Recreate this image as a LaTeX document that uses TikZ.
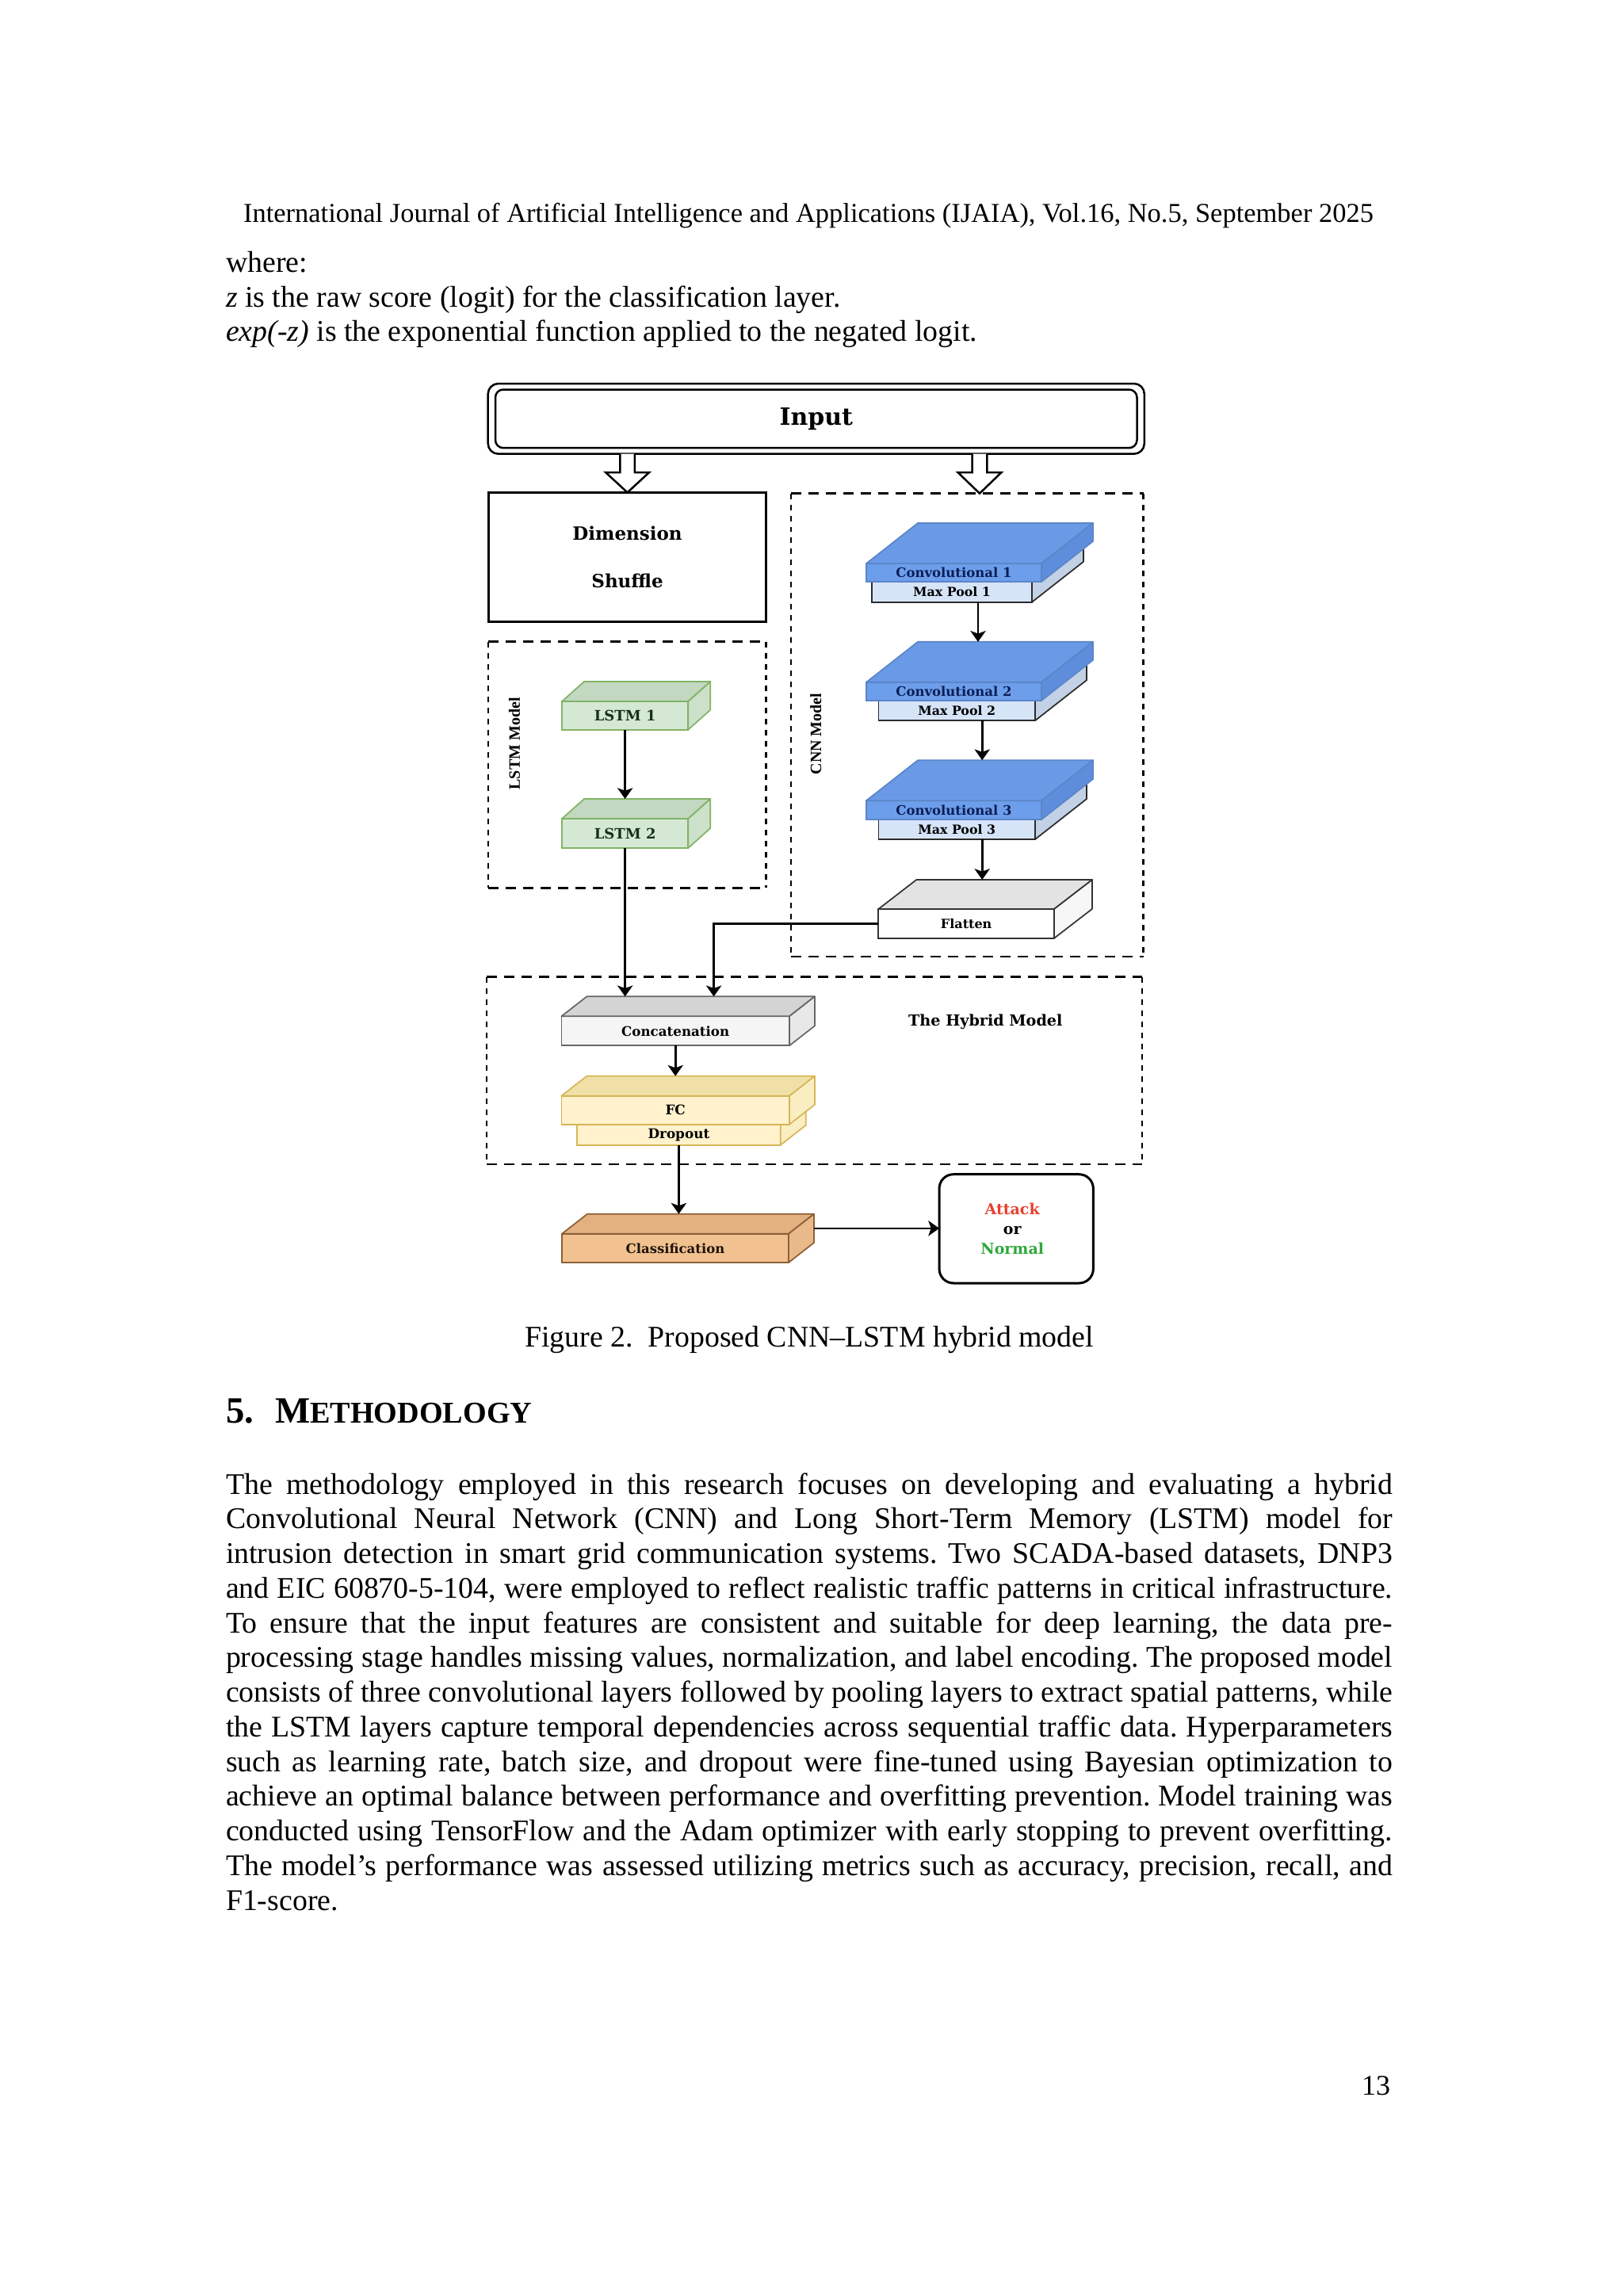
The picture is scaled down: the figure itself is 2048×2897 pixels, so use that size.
\documentclass[tikz,border=0pt]{standalone}
\usepackage{fontspec}
\setmainfont{Liberation Serif}
\newfontfamily\dvs{DejaVu Serif}
\usetikzlibrary{arrows.meta,calc}
\frenchspacing
\def\pxu{0.29067pt}
\newlength\parw
\setlength\parw{427.9pt}
\definecolor{lstmF}{HTML}{D5E8D4}\definecolor{lstmT}{HTML}{C2D8C0}\definecolor{lstmS}{HTML}{CCE0CA}\definecolor{lstmD}{HTML}{82B366}\definecolor{lstmTx}{HTML}{17301A}
\definecolor{convF}{HTML}{6D9EEB}\definecolor{convT}{HTML}{6A9AE5}\definecolor{convS}{HTML}{5D8DDB}\definecolor{convD}{HTML}{5B86C9}\definecolor{convTx}{HTML}{0B1E55}
\definecolor{mpF}{HTML}{D6E4F8}\definecolor{mpS}{HTML}{C3D1E6}\definecolor{mpD}{HTML}{2B2B2B}
\definecolor{flatF}{HTML}{FFFFFF}\definecolor{flatT}{HTML}{E3E3E3}\definecolor{flatS}{HTML}{F7F7F7}\definecolor{flatD}{HTML}{333333}
\definecolor{catF}{HTML}{F5F5F5}\definecolor{catT}{HTML}{D4D4D4}\definecolor{catS}{HTML}{E8E8E8}\definecolor{catD}{HTML}{666666}
\definecolor{fcF}{HTML}{FFF2CC}\definecolor{fcT}{HTML}{F0E0A8}\definecolor{fcS}{HTML}{FAEDC2}\definecolor{fcD}{HTML}{D6B656}
\definecolor{clsF}{HTML}{F2C190}\definecolor{clsT}{HTML}{E3B080}\definecolor{clsS}{HTML}{EAB98A}\definecolor{clsD}{HTML}{8A6036}
\definecolor{atkR}{HTML}{E8402F}\definecolor{nrmG}{HTML}{2EA83A}
% #1 name, #2 cx, #3 cy, #4 w, #5 h, #6 dx, #7 dy, #8 style prefix, #9 text
\newcommand\cuboid[9]{%
  \node[cubef, #8f, minimum width=#4*\pxu, minimum height=#5*\pxu] (#1) at (#2,#3) {#9};
  \filldraw[cubes, #8t] (#1.north west) -- ++(#6,#7) -- ++(#4,0) -- (#1.north east) -- cycle;
  \filldraw[cubes, #8s] (#1.north east) -- ++(#6,#7) -- ++(0,#5) -- (#1.south east) -- cycle;
  \coordinate (#1-top) at ($(#1.north)+(#6,#7)$);
}
\newcommand\dbox[5]{%
  \coordinate (#1-nw) at (#2,#3); \coordinate (#1-se) at (#4,#5);
  \draw[hd] (#1-nw) -- (#1-nw -| #1-se);
  \draw[hd] (#1-nw |- #1-se) -- (#1-se);
  \draw[vd] (#1-nw) -- (#1-nw |- #1-se);
  \draw[vd] (#1-nw -| #1-se) -- (#1-se);
}
\newcommand\pline[3]{\node[body] (#1) at (285,#2) {\makebox[\parw][s]{#3}};}
\begin{document}
\begin{tikzpicture}[x=0.29067pt, y=-0.29067pt,
  every node/.style={inner sep=0pt, outer sep=0pt},
  body/.style={anchor=base west, font=\fontsize{11pt}{12.7pt}\selectfont},
  hd/.style={line width=0.73pt, dash pattern=on 3.78pt off 2.62pt},
  vd/.style={line width=0.73pt, dash pattern=on 2.03pt off 2.03pt},
  arr/.style={line width=0.78pt, -{Stealth[length=4pt,width=5.6pt,inset=1pt]}},
  hollowarrow/.style={line width=0.73pt, fill=white, line join=miter},
  cubef/.style={draw, line width=0.5pt, font=\fontsize{4.8pt}{5.8pt}\selectfont\dvs\bfseries},
  cubes/.style={line width=0.5pt, line join=round},
  lstmf/.style={fill=lstmF, draw=lstmD, text=lstmTx, font=\fontsize{5.23pt}{6pt}\selectfont\dvs\bfseries},
  lstmt/.style={fill=lstmT, draw=lstmD}, lstms/.style={fill=lstmS, draw=lstmD},
  convf/.style={fill=convF, draw=convD, text=convTx},
  convt/.style={fill=convT, draw=convD}, convs/.style={fill=convS, draw=convD},
  mpf/.style={fill=mpF, draw=mpD, text=black, font=\fontsize{4.6pt}{5.6pt}\selectfont\dvs\bfseries},
  mpt/.style={fill=mpF, draw=mpD}, mps/.style={fill=mpS, draw=mpD},
  flatf/.style={fill=flatF, draw=flatD, text=black, font=\fontsize{4.65pt}{5.6pt}\selectfont\dvs\bfseries},
  flatt/.style={fill=flatT, draw=flatD}, flats/.style={fill=flatS, draw=flatD},
  catf/.style={fill=catF, draw=catD, text=black, font=\fontsize{4.85pt}{5.8pt}\selectfont\dvs\bfseries},
  catt/.style={fill=catT, draw=catD}, cats/.style={fill=catS, draw=catD},
  fcf/.style={fill=fcF, draw=fcD, text=black, font=\fontsize{4.9pt}{5.8pt}\selectfont\dvs\bfseries},
  fct/.style={fill=fcT, draw=fcD}, fcs/.style={fill=fcS, draw=fcD},
  clsf/.style={fill=clsF, draw=clsD, text=black!85!brown, font=\fontsize{4.8pt}{5.8pt}\selectfont\dvs\bfseries},
  clst/.style={fill=clsT, draw=clsD}, clss/.style={fill=clsS, draw=clsD}
]
\fill[white] (0,0) rectangle (2048,2897);
\useasboundingbox (0,0) rectangle (2048,2897);

% ---------- page text ----------
\node[anchor=base, font=\fontsize{10.02pt}{12pt}\selectfont] (hdr) at (1020,280) {International Journal of Artificial Intelligence and Applications (IJAIA), Vol.16, No.5, September 2025};
\node[body] (w1) at (285,343) {where:};
\node[body] (w2) at (285,387) {\textit{z} is the raw score (logit) for the classification layer.};
\node[body] (w3) at (285,430) {\textit{exp(-z)} is the exponential function applied to the negated logit.};
\node[anchor=base, font=\fontsize{11pt}{12.7pt}\selectfont] (cap) at (1021,1699) {Figure 2.\ \ Proposed CNN–LSTM hybrid model};
\node[body] (sec) at (285,1795) {\bfseries\fontsize{13.6pt}{15pt}\selectfont 5.\hspace{7.85pt}M\fontsize{11.1pt}{13pt}\selectfont ETHODOLOGY};
\pline{p1}{1885.0}{The methodology employed in this research focuses on developing and evaluating a hybrid}
\pline{p2}{1928.8}{Convolutional Neural Network (CNN) and Long Short-Term Memory (LSTM) model for}
\pline{p3}{1972.5}{intrusion detection in smart grid communication systems. Two SCADA-based datasets, DNP3}
\pline{p4}{2016.3}{and EIC 60870-5-104, were employed to reflect realistic traffic patterns in critical infrastructure.}
\pline{p5}{2060.0}{To ensure that the input features are consistent and suitable for deep learning, the data pre-}
\pline{p6}{2103.8}{processing stage handles missing values, normalization, and label encoding. The proposed model}
\pline{p7}{2147.6}{consists of three convolutional layers followed by pooling layers to extract spatial patterns, while}
\pline{p8}{2191.3}{the LSTM layers capture temporal dependencies across sequential traffic data. Hyperparameters}
\pline{p9}{2235.1}{such as learning rate, batch size, and dropout were fine-tuned using Bayesian optimization to}
\pline{p10}{2278.8}{achieve an optimal balance between performance and overfitting prevention. Model training was}
\pline{p11}{2322.6}{conducted using TensorFlow and the Adam optimizer with early stopping to prevent overfitting.}
\pline{p12}{2366.4}{The model’s performance was assessed utilizing metrics such as accuracy, precision, recall, and}
\node[body] (p13) at (285,2410.1) {F1-score.};
\node[anchor=base east, font=\fontsize{10.46pt}{12pt}\selectfont] (pg) at (1754,2643) {13};

% ---------- group boxes ----------
\dbox{lstmbox}{616}{809.6}{966.7}{1120.3}
\dbox{cnnbox}{997.8}{622.6}{1442.5}{1207.2}
\dbox{hybbox}{614}{1232.7}{1441}{1469.2}

% ---------- input and dimension shuffle ----------
\node[draw, line width=0.73pt, rounded corners=3.8pt, minimum width=828.1*\pxu, minimum height=88.7*\pxu,
      font=\fontsize{8.72pt}{10pt}\selectfont\dvs\bfseries] (input) at (1029.75,528.35) {Input};
\draw[line width=0.73pt, rounded corners=2.9pt] ($(input.north west)+(9.3,7.5)$) rectangle ($(input.south east)+(-9.3,-7.5)$);
\node[draw, line width=0.87pt, minimum width=349.4*\pxu, minimum height=162.8*\pxu, align=center,
      font=\fontsize{6.69pt}{17.44pt}\selectfont\dvs\bfseries] (dim) at (791.6,702.8) {Dimension\\Shuffle};

\coordinate (la) at (input.south -| dim.north);
\coordinate (ra) at ($(input.south)+(206.25,0)$);
\draw[hollowarrow] ($(la)+(-9.3,0)$) -- ($(la)+(-9.3,23.3)$) -- ($(la)+(-27.5,23.3)$) -- (dim.north)
   -- ($(la)+(27.5,23.3)$) -- ($(la)+(9.3,23.3)$) -- ($(la)+(9.3,0)$);
\draw[hollowarrow] ($(ra)+(-9.3,0)$) -- ($(ra)+(-9.3,23.3)$) -- ($(ra)+(-27.5,23.3)$) -- (ra |- cnnbox-nw)
   -- ($(ra)+(27.5,23.3)$) -- ($(ra)+(9.3,23.3)$) -- ($(ra)+(9.3,0)$);

% ---------- layers ----------
\cuboid{lstm1}{788.65}{902.85}{159.3}{35.7}{28}{-25}{lstm}{LSTM 1}
\cuboid{lstm2}{788.65}{1051.5}{159.3}{37}{28}{-25}{lstm}{LSTM 2}
\cuboid{mp1}{1201}{746.85}{202}{25.7}{65}{-51}{mp}{Max Pool 1}
\cuboid{conv1}{1203.5}{722.5}{221}{23}{65}{-51}{conv}{Convolutional 1}
\cuboid{mp2}{1207.2}{896.5}{197.7}{25.4}{65}{-51}{mp}{Max Pool 2}
\cuboid{conv2}{1203.5}{872.3}{221}{23}{65}{-51}{conv}{Convolutional 2}
\cuboid{mp3}{1207.2}{1046.5}{197.7}{25}{65}{-51}{mp}{Max Pool 3}
\cuboid{conv3}{1203.5}{1022.1}{221}{23.8}{65}{-51}{conv}{Convolutional 3}
\cuboid{flat}{1219.15}{1165.4}{221.7}{36.8}{48}{-37}{flat}{Flatten}
\cuboid{concat}{852.2}{1300.8}{287.6}{37}{32}{-25}{cat}{Concatenation}
\cuboid{drop}{856.4}{1431.7}{256.8}{26}{32}{-25}{fc}{Dropout}
\cuboid{fc}{852.2}{1400.7}{287.6}{36}{32}{-25}{fc}{FC}
\cuboid{cls}{852}{1574.85}{286}{36.3}{32}{-25}{cls}{Classification}

% ---------- labels ----------
\node[rotate=90, font=\fontsize{5.81pt}{7pt}\selectfont\bfseries] (lstmlbl) at (649,938.4) {LSTM Model};
\node[rotate=90, font=\fontsize{5.81pt}{7pt}\selectfont\bfseries] (cnnlbl) at (1029.3,926) {CNN Model};
\node[font=\fontsize{5.58pt}{6.5pt}\selectfont\dvs\bfseries] (hyblbl) at (1243.3,1289.3) {The Hybrid Model};

% ---------- output ----------
\node[draw, line width=0.87pt, rounded corners=5.2pt, minimum width=194.3*\pxu, minimum height=137.3*\pxu] (att) at (1282.2,1550.35) {};
\node[align=center, font=\fontsize{5.52pt}{7.3pt}\selectfont\dvs\bfseries] (atttxt) at ($(att.center)+(-5,0)$) {\textcolor{atkR}{Attack}\\or\\\textcolor{nrmG}{Normal}};

% ---------- connectors ----------
\coordinate (a1) at ($(mp1.south)+(33,0)$);
\draw[arr] (a1) -- (a1 |- conv2-top);
\coordinate (a2) at ($(mp2.south)+(32,0)$);
\draw[arr] (a2) -- (a2 |- conv3-top);
\coordinate (a3) at ($(mp3.south)+(32,0)$);
\draw[arr] (a3) -- (a3 |- flat-top);
\draw[arr] (lstm1.south) -- (lstm1.south |- lstm2-top);
\draw[arr] (lstm2.south) -- (lstm2.south |- concat-top);
\coordinate (fj) at ($(concat-top)+(16.4,0)$);
\draw[arr] (flat.west) -| (fj);
\draw[arr] (concat.south) -- (concat.south |- fc-top);
\draw[arr] (drop.south) -- (drop.south |- cls-top);
\coordinate (cs) at ($(cls.east)+(32,-25)$);
\draw[arr] (cs) -- (cs -| att.west);
\end{tikzpicture}
\end{document}
